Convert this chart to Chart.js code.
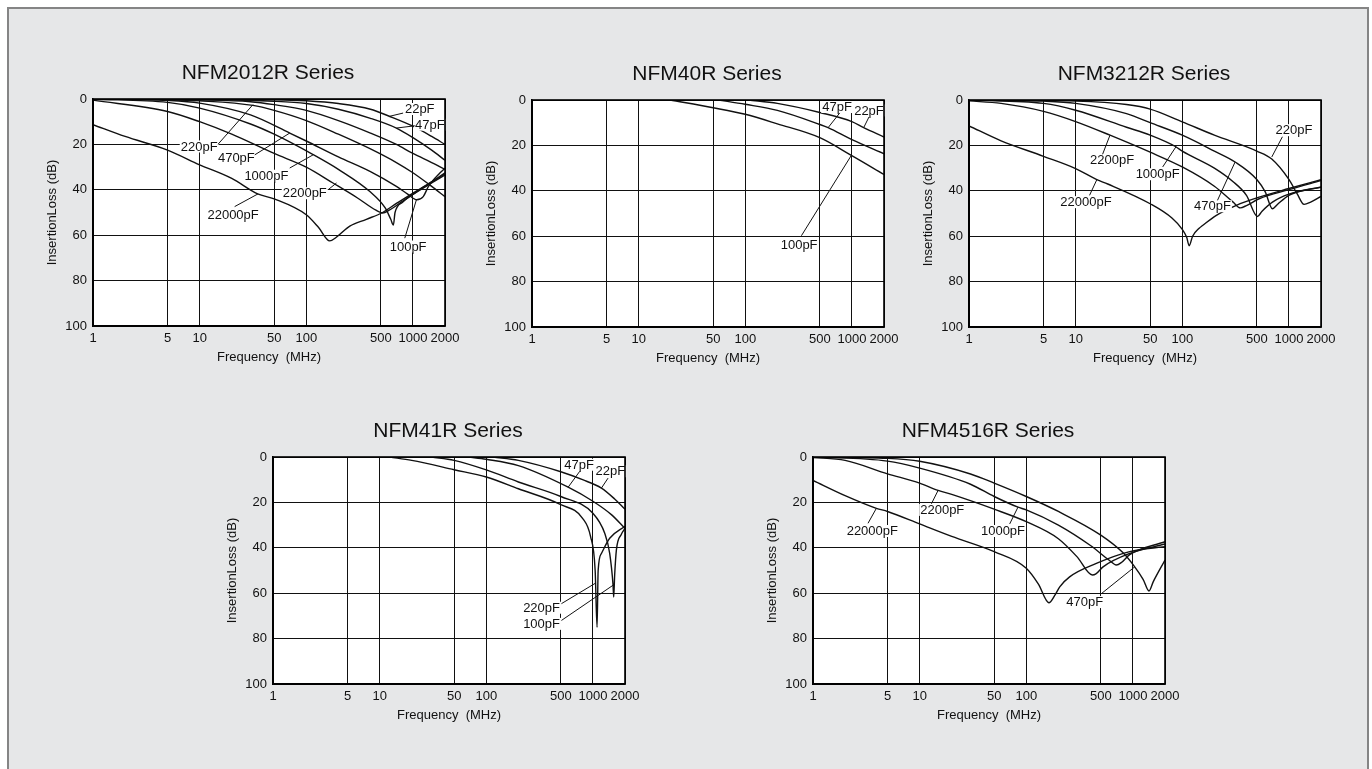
<!DOCTYPE html>
<html>
<head>
<meta charset="utf-8">
<script src="https://cdn.jsdelivr.net/npm/chart.js@4.4.1/dist/chart.umd.min.js"></script>
<style>
  html, body { margin: 0; padding: 0; width: 1372px; height: 769px; overflow: hidden; background: #fff; }
  #panel { position: absolute; left: 7px; top: 7px; width: 1358px; height: 790px; background: #e6e7e8;
           border: 2px solid #858585; border-bottom: none; }
  canvas { position: absolute; }
</style>
</head>
<body>
<div id="panel"></div>
<canvas id="c2012" width="442" height="322" style="left:33px;top:49px"></canvas>
<canvas id="c40" width="442" height="322" style="left:472px;top:50px"></canvas>
<canvas id="c3212" width="442" height="322" style="left:909px;top:50px"></canvas>
<canvas id="c41" width="442" height="322" style="left:213px;top:407px"></canvas>
<canvas id="c4516" width="442" height="322" style="left:753px;top:407px"></canvas>
<script>
// axis ticks
const freqTicks = [1, 5, 10, 50, 100, 500, 1000, 2000];
const dbTicks = [0, 20, 40, 60, 80, 100];

// NFM2012R  [MHz, dB]
const n2012_22pF = [[1,0],[10,0.1],[50,0.3],[100,0.8],[200,2],[400,4.5],[600,7.6],[1000,12],[1500,16.5],[2000,20]];
const n2012_47pF = [[1,0],[10,0.2],[50,1],[100,2],[200,4.5],[400,8.5],[700,12.8],[1000,17],[1500,22.5],[2000,27]];
const n2012_100pF = [[1,0],[10,0.4],[30,1.2],[50,2.5],[100,5],[200,9.5],[400,15],[700,20],[1000,24],[1500,28],[2000,31]];
const n2012_220pF = [[1,0],[5,0.3],[10,0.8],[31.6,2.8],[50,5],[100,9.5],[200,15.5],[400,22],[700,28],[1000,32.5],[1500,38.5],[2000,43]];
const n2012_470pF = [[1,0],[5,0.6],[10,1.8],[30,7],[70,15],[100,18.5],[200,25.5],[400,32],[700,38.5],[900,42],[1087,44.4],[1250,43],[1400,38.5],[1800,32.5],[2000,30.5]];
const n2012_1000pF = [[1,0.1],[5,1.5],[10,4],[30,11],[50,15.5],[116,24.5],[200,31],[400,41],[550,48],[620,53],[656,55.5],[680,50],[800,45.5],[1000,42],[1500,36.5],[2000,33]];
const n2012_2200pF = [[1,0.5],[5,5.5],[10,10],[20,15.5],[50,24],[100,30],[178,37],[300,43.5],[450,49],[520,50.2],[600,49],[800,45],[1000,42],[1500,37],[2000,33.5]];
const n2012_22000pF = [[1,11.3],[2,16.5],[5,22.5],[10,29],[20,35],[35,41.8],[50,44],[100,51],[130,56.5],[166,62.5],[190,61],[256,56],[366,53],[520,50],[700,46],[1000,41.5],[1500,36.5],[2000,32.5]];

// NFM40R
const n40_22pF = [[107,0],[200,1.5],[500,5.5],[1000,9.5],[1289,12.2],[2000,16.3]];
const n40_47pF = [[56,0],[100,1.9],[200,4.6],[500,10.8],[598,12.2],[1000,17.5],[2000,23.7]];
const n40_100pF = [[19.7,0],[50,3.4],[100,6.3],[200,10.5],[500,16.6],[988,24.4],[2000,32.8]];

// NFM3212R
const n3212_220pF = [[1,0],[10,0.5],[30,2],[50,4],[100,9.6],[200,15.5],[500,22.5],[691,26],[1000,35],[1200,41.5],[1387,46],[1600,45],[2000,42.5]];
const n3212_470pF = [[1,0],[5,0.5],[10,1.5],[30,6],[50,10],[100,15.5],[200,22.5],[313,27.3],[500,35],[600,40.5],[701,47.9],[780,46],[1000,42],[1500,39.5],[2000,38.5]];
const n3212_1000pF = [[1,0],[5,1.5],[10,4.5],[30,12],[50,15.5],[87,20.6],[100,22.5],[200,30],[300,36],[400,42],[507,51.3],[560,49],[701,45],[1000,41.5],[2000,38.3]];
const n3212_2200pF = [[1,0.4],[2,1.5],[5,5],[10,9.5],[21,15.5],[50,23],[100,29.5],[200,38],[300,45],[350,47.5],[400,46.5],[526,43.5],[1000,39.5],[2000,35.5]];
const n3212_22000pF = [[1,11.4],[2,18],[5,24.8],[10,30.2],[15.8,35.1],[20,37],[50,45.7],[80,52],[100,57],[110,60.5],[116,64.2],[125,60],[144,56.5],[155,55.3],[207,50.9],[318,46.5],[526,42.8],[1000,39],[2000,35.1]];

// NFM41R
const n41_22pF = [[116,0],[200,1.5],[500,6.5],[800,10],[1202,13.7],[1600,18.5],[2000,23]];
const n41_47pF = [[68,0],[100,1],[200,3.8],[586,13.3],[1000,19.5],[1500,25.5],[2000,31.5]];
const n41_100pF = [[30.8,0],[50,1.5],[100,5.7],[200,11],[500,17.4],[1000,24.8],[1291,33.6],[1437,42.5],[1545,56.5],[1567,61.7],[1600,52],[1660,41],[1850,34],[2000,31.4]];
const n41_220pF = [[12.5,0],[20,1.5],[50,5.6],[100,8.8],[200,14],[500,21],[800,27],[950,35],[1050,50],[1094,75],[1120,50],[1202,42.5],[1437,35.8],[2000,30.5]];

// NFM4516R
const n4516_470pF = [[1,0],[5,0.6],[10,1.9],[30,7.5],[50,11.5],[100,17.4],[200,24],[500,34.4],[800,42],[1040,48.4],[1250,54],[1416,59],[1550,55],[2000,45.4]];
const n4516_1000pF = [[1,0],[5,1.8],[10,4.9],[30,12],[50,17.4],[83.6,22.1],[100,23.3],[200,30],[400,39],[600,45.5],[699,47.6],[780,46.5],[933,43],[2000,37.3]];
const n4516_2200pF = [[1,0.2],[2,1.5],[5,7.4],[10,11.5],[14.9,14.7],[20,16.5],[50,23],[100,28.5],[200,36],[300,44],[417,52],[450,51.5],[525,48.4],[933,42.5],[2000,38.3]];
const n4516_22000pF = [[1,10.3],[2,17],[3.93,22.6],[5,24],[10,29.5],[20,35],[50,41.7],[100,49],[130,56],[163,64.2],[185,61],[206,57.2],[255,52.8],[454,46.9],[933,41.7],[2000,39.5]];

// labels: text position, leader start, leader end (all MHz / dB)
const notes2012 = [
  ['22pF', [1159,4.4], [809,6.2], [607,7.6]],
  ['47pF', [1439,11.3], [1042,11.8], [701,12.8]],
  ['220pF', [9.9,20.9], [14.9,19.9], [31.6,2.5]],
  ['470pF', [22.1,26], [32.9,24.6], [70,15]],
  ['1000pF', [42.3,33.8], [70,30.4], [116,24.6]],
  ['2200pF', [96.8,41.5], [160,40], [192,37]],
  ['22000pF', [20.6,51], [21.3,47.4], [35.3,41.8]],
  ['100pF', [902,65], [839,61.3], [1079,44.4]]
];
const notes40 = [
  ['47pF', [726,3.1], [769,5.7], [598,12.2]],
  ['22pF', [1446,4.6], [1446,7.5], [1289,12.2]],
  ['100pF', [320,63.9], [336,59.8], [988,24.4]]
];
const notes3212 = [
  ['220pF', [1117,13.3], [869,16.2], [691,25.1]],
  ['2200pF', [22,26.5], [17.9,23.9], [21,15.5]],
  ['1000pF', [58.8,32.7], [65.5,29.5], [87.3,20.6]],
  ['22000pF', [12.5,45], [13.5,42], [15.8,35.1]],
  ['470pF', [192,46.8], [214,44.2], [313,27.3]]
];
const notes41 = [
  ['47pF', [742,3.4], [753,6.3], [586,13.3]],
  ['22pF', [1459,6.3], [1387,9.3], [1202,13.7]],
  ['220pF', [330,66.4], [507,64.6], [1064,55.5]],
  ['100pF', [330,73.5], [507,72], [1545,56.5]]
];
const notes4516 = [
  ['22000pF', [3.6,32.6], [3.28,29.2], [3.93,22.6]],
  ['2200pF', [16.3,23.3], [12.9,20.6], [14.9,14.7]],
  ['1000pF', [60.5,32.6], [69.9,29.5], [83.6,22.1]],
  ['470pF', [353,63.9], [506,60.2], [1040,48.4]]
];

const FONT = '"Liberation Sans", Arial, sans-serif';
const INK = '#111';

// white plot background + outer frame
const frame = {
  id: 'frame',
  beforeDraw(chart) {
    const a = chart.chartArea, ctx = chart.ctx;
    ctx.save();
    ctx.fillStyle = '#fff';
    ctx.fillRect(a.left, a.top, a.right - a.left, a.bottom - a.top);
    ctx.restore();
  },
  afterDraw(chart) {
    const a = chart.chartArea, ctx = chart.ctx;
    ctx.save();
    ctx.strokeStyle = '#000';
    ctx.lineWidth = 1.6;
    ctx.strokeRect(a.left, a.top, a.right - a.left, a.bottom - a.top);
    // series title above the plot
    ctx.fillStyle = INK;
    ctx.font = '21px ' + FONT;
    ctx.textAlign = 'center';
    ctx.textBaseline = 'middle';
    ctx.fillText(chart.options.plugins.frame.title, (a.left + a.right) / 2 - 1, a.top - 26);
    ctx.restore();
  }
};

// capacitance labels with leader lines
const labels = {
  id: 'labels',
  afterDatasetsDraw(chart) {
    const xs = chart.scales.x, ys = chart.scales.y, ctx = chart.ctx;
    const px = p => [xs.getPixelForValue(p[0]), ys.getPixelForValue(p[1])];
    ctx.save();
    ctx.font = '13px ' + FONT;
    ctx.textAlign = 'center';
    ctx.textBaseline = 'middle';
    for (const [text, at, from, to] of chart.options.plugins.labels.notes) {
      const [tx, ty] = px(at);
      const w = ctx.measureText(text).width;
      ctx.fillStyle = '#fff';
      ctx.fillRect(tx - w / 2 - 1, ty - 6, w + 2, 12);
      ctx.strokeStyle = INK;
      ctx.lineWidth = 1;
      const [x1, y1] = px(from), [x2, y2] = px(to);
      ctx.beginPath();
      ctx.moveTo(x1, y1);
      ctx.lineTo(x2, y2);
      ctx.stroke();
      ctx.fillStyle = INK;
      ctx.fillText(text, tx, ty + 0.5);
    }
    ctx.restore();
  }
};

function makeChart(id, title, series, notes) {
  return new Chart(document.getElementById(id), {
    type: 'line',
    data: {
      datasets: series.map(pts => ({
        data: pts.map(p => ({ x: p[0], y: p[1] })),
        borderColor: INK,
        borderWidth: 1.4,
        pointRadius: 0,
        cubicInterpolationMode: 'monotone',
        fill: false
      }))
    },
    options: {
      responsive: false,
      animation: false,
      events: [],
      devicePixelRatio: 1,
      layout: { padding: { top: 50, right: 30, left: 0, bottom: 0 } },
      plugins: {
        legend: { display: false },
        tooltip: { enabled: false },
        frame: { title: title },
        labels: { notes: notes }
      },
      scales: {
        x: {
          type: 'logarithmic',
          min: 1,
          max: 2000,
          afterBuildTicks: s => { s.ticks = freqTicks.map(v => ({ value: v })); },
          afterFit: s => { s.height = 45; },
          ticks: {
            autoSkip: false, maxRotation: 0, minRotation: 0, padding: 5,
            color: INK, font: { family: FONT, size: 13 },
            callback: v => String(v)
          },
          grid: { color: '#111', lineWidth: 1, drawTicks: false },
          border: { color: '#000', width: 1.5 },
          title: { display: true, text: 'Frequency  (MHz)', color: INK,
                   font: { family: FONT, size: 13 }, padding: { top: 0, bottom: 6 } }
        },
        y: {
          type: 'linear',
          reverse: true,
          min: 0,
          max: 100,
          afterBuildTicks: s => { s.ticks = dbTicks.map(v => ({ value: v })); },
          afterFit: s => { s.width = 60; },
          ticks: { padding: 6, color: INK, font: { family: FONT, size: 13 } },
          grid: { color: '#111', lineWidth: 1, drawTicks: false },
          border: { color: '#000', width: 1.5 },
          title: { display: true, text: 'InsertionLoss (dB)', color: INK,
                   font: { family: FONT, size: 13 }, padding: { top: 12, bottom: 0 } }
        }
      }
    },
    plugins: [frame, labels]
  });
}

makeChart('c2012', 'NFM2012R Series',
  [n2012_22pF, n2012_47pF, n2012_100pF, n2012_220pF, n2012_470pF, n2012_1000pF, n2012_2200pF, n2012_22000pF], notes2012);
makeChart('c40', 'NFM40R Series', [n40_22pF, n40_47pF, n40_100pF], notes40);
makeChart('c3212', 'NFM3212R Series',
  [n3212_220pF, n3212_470pF, n3212_1000pF, n3212_2200pF, n3212_22000pF], notes3212);
makeChart('c41', 'NFM41R Series', [n41_22pF, n41_47pF, n41_100pF, n41_220pF], notes41);
makeChart('c4516', 'NFM4516R Series',
  [n4516_470pF, n4516_1000pF, n4516_2200pF, n4516_22000pF], notes4516);
</script>
</body>
</html>
